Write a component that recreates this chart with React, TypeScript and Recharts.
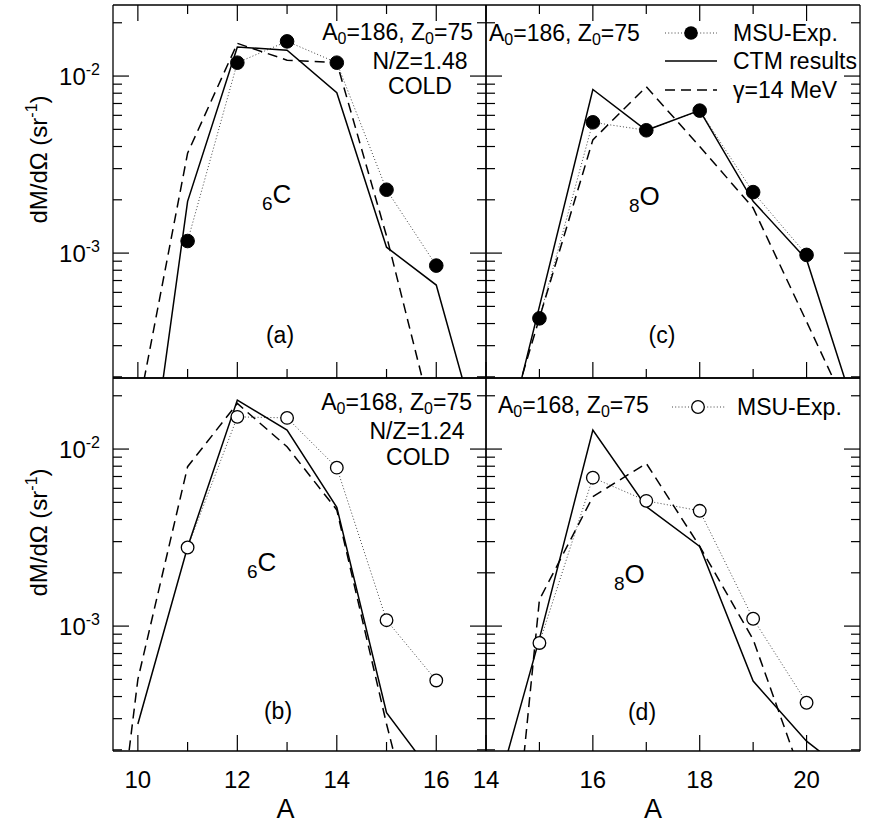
import React from "react";
import { LineChart, Line, XAxis, YAxis, Legend } from "recharts";

const FONT = "'Liberation Sans', Arial, Helvetica, sans-serif";
const W = 871;
const H = 823;

// axes
const yTicks = [
  2e-4, 3e-4, 4e-4, 5e-4, 6e-4, 7e-4, 8e-4, 9e-4,
  1e-3, 2e-3, 3e-3, 4e-3, 5e-3, 6e-3, 7e-3, 8e-3, 9e-3,
  1e-2, 2e-2,
];
const yDomain = [1.97e-4, 2.52e-2];
const carbonTicks = [10, 11, 12, 13, 14, 15, 16];
const oxygenTicks = [14, 15, 16, 17, 18, 19, 20];
const carbonDomain = [9.5, 17];
const oxygenDomain = [14, 21];

// (a) 6C, A0=186
const aExpA = [11, 12, 13, 14, 15, 16];
const aExp = [1.17e-3, 1.19e-2, 1.57e-2, 1.19e-2, 2.28e-3, 8.5e-4];
const aCtmA = [10, 11, 12, 13, 14, 15, 16, 17];
const aCtm = [1.8e-5, 1.96e-3, 1.46e-2, 1.4e-2, 8.05e-3, 1.08e-3, 6.6e-4, 6.5e-5];
const aGamA = [10, 11, 12, 13, 14, 15, 16];
const aGam = [1.27e-4, 3.67e-3, 1.53e-2, 1.23e-2, 1.19e-2, 1.25e-3, 9.5e-5];

// (b) 6C, A0=168
const bExpA = [11, 12, 13, 14, 15, 16];
const bExp = [2.78e-3, 1.52e-2, 1.5e-2, 7.85e-3, 1.08e-3, 4.93e-4];
const bCtmA = [10, 11, 12, 13, 14, 15, 16];
const bCtm = [2.8e-4, 2.8e-3, 1.89e-2, 1.28e-2, 4.69e-3, 3.24e-4, 1.37e-4];
const bGamA = [9, 10, 11, 12, 13, 14, 15, 16];
const bGam = [2.6e-6, 5e-4, 7.95e-3, 1.81e-2, 1.03e-2, 4.53e-3, 2.8e-4, 2.2e-5];

// (c) 8O, A0=186
const cExpA = [15, 16, 17, 18, 19, 20];
const cExp = [4.28e-4, 5.48e-3, 4.94e-3, 6.38e-3, 2.21e-3, 9.77e-4];
const cCtmA = [14, 15, 16, 17, 18, 19, 20, 21];
const cCtm = [3.0e-5, 5.0e-4, 8.4e-3, 4.94e-3, 6.4e-3, 1.96e-3, 9.2e-4, 1.05e-4];
const cGamA = [14, 15, 16, 17, 18, 19, 20, 21];
const cGam = [4.2e-5, 4.3e-4, 4.36e-3, 8.7e-3, 4.0e-3, 1.8e-3, 4.1e-4, 9.3e-5];

// (d) 8O, A0=168
const dExpA = [15, 16, 17, 18, 19, 20];
const dExp = [8.03e-4, 6.89e-3, 5.1e-3, 4.48e-3, 1.1e-3, 3.69e-4];
const dCtmA = [14, 15, 16, 17, 18, 19, 20, 21];
const dCtm = [7e-5, 8.5e-4, 1.28e-2, 4.73e-3, 2.82e-3, 4.89e-4, 2.24e-4, 1.3e-4];
const dGamA = [14, 15, 16, 17, 18, 19, 20];
const dGam = [1.3e-6, 1.41e-3, 5.38e-3, 8.3e-3, 2.82e-3, 8.4e-4, 1.19e-4];

type Pt = { A: number; v: number };
const zip = (xs: number[], ys: number[]): Pt[] => xs.map((A, i) => ({ A, v: ys[i] }));

const EXP_STROKE = "#444";
const EXP_DASH = "1 2.2";
const GAM_DASH = "10 6";
const frame = { stroke: "#000", strokeWidth: 1.3 };

const isDecade = (v: number) => Math.abs(Math.log10(v) - Math.round(Math.log10(v))) < 1e-6;

function YTickLeft(props: any) {
  const { x, y, payload, withLabel } = props;
  const major = isDecade(payload.value);
  return (
    <g>
      <line x1={x} x2={x + (major ? 16 : 9)} y1={y} y2={y} stroke="#000" strokeWidth={1.2} />
      {withLabel && major ? (
        <text x={x - 13} y={y + 9} textAnchor="end" fontSize={24} fontFamily={FONT} fill="#000">
          10<tspan dy={-10} fontSize={16}>{Math.round(Math.log10(payload.value))}</tspan>
        </text>
      ) : null}
    </g>
  );
}

function YTickRight(props: any) {
  const { x, y, payload } = props;
  const major = isDecade(payload.value);
  return <line x1={x} x2={x - (major ? 16 : 9)} y1={y} y2={y} stroke="#000" strokeWidth={1.2} />;
}

function XTickBottom(props: any) {
  const { x, y, payload, withLabel } = props;
  const major = payload.value % 2 === 0;
  return (
    <g>
      <line x1={x} x2={x} y1={y} y2={y - (major ? 16 : 9)} stroke="#000" strokeWidth={1.2} />
      {withLabel && major ? (
        <text x={x} y={y + 37} textAnchor="middle" fontSize={24} fontFamily={FONT} fill="#000">
          {payload.value}
        </text>
      ) : null}
    </g>
  );
}

function XTickTop(props: any) {
  const { x, y, payload } = props;
  const major = payload.value % 2 === 0;
  return <line x1={x} x2={x} y1={y} y2={y + (major ? 16 : 9)} stroke="#000" strokeWidth={1.2} />;
}

function Source({ x, y, anchor, a0 }: { x: number; y: number; anchor: "start" | "end"; a0: number }) {
  return (
    <text x={x} y={y} textAnchor={anchor} fontSize={23} fontFamily={FONT} fill="#000">
      A<tspan fontSize={16} dy={4}>0</tspan>
      <tspan dy={-4}>={a0}, Z</tspan>
      <tspan fontSize={16} dy={4}>0</tspan>
      <tspan dy={-4}>=75</tspan>
    </text>
  );
}

function Element({ x, y, z, sym }: { x: number; y: number; z: number; sym: string }) {
  return (
    <text x={x} y={y} fontSize={19} fontFamily={FONT} fill="#000">
      {z}
      <tspan fontSize={26} dy={-7}>{sym}</tspan>
    </text>
  );
}

function Txt({ x, y, children, anchor = "middle" }: any) {
  return (
    <text x={x} y={y} textAnchor={anchor} fontSize={23} fontFamily={FONT} fill="#000">
      {children}
    </text>
  );
}

const notesA = (
  <g>
    <Source x={473} y={40} anchor="end" a0={186} />
    <Txt x={420} y={69}>N/Z=1.48</Txt>
    <Txt x={420} y={94}>COLD</Txt>
    <Element x={262} y={210} z={6} sym="C" />
    <Txt x={280} y={343}>(a)</Txt>
  </g>
);

const notesB = (
  <g>
    <Source x={472} y={410} anchor="end" a0={168} />
    <Txt x={417} y={439}>N/Z=1.24</Txt>
    <Txt x={418} y={465}>COLD</Txt>
    <Element x={247} y={578} z={6} sym="C" />
    <Txt x={278} y={719}>(b)</Txt>
  </g>
);

const notesC = (
  <g>
    <Source x={489} y={41} anchor="start" a0={186} />
    <line x1={665} x2={717} y1={33} y2={33} stroke={EXP_STROKE} strokeDasharray={EXP_DASH} />
    <circle cx={691} cy={33} r={6.8} fill="#000" />
    <Txt x={733} y={41} anchor="start">MSU-Exp.</Txt>
    <line x1={665} x2={717} y1={61} y2={61} stroke="#000" strokeWidth={1.5} />
    <Txt x={733} y={69} anchor="start">CTM results</Txt>
    <line x1={665} x2={717} y1={90} y2={90} stroke="#000" strokeWidth={1.5} strokeDasharray={GAM_DASH} />
    <Txt x={733} y={98} anchor="start">γ=14 MeV</Txt>
    <Element x={629} y={212} z={8} sym="O" />
    <Txt x={662} y={343}>(c)</Txt>
  </g>
);

const notesD = (
  <g>
    <Source x={498} y={413} anchor="start" a0={168} />
    <line x1={672} x2={725} y1={407} y2={407} stroke={EXP_STROKE} strokeDasharray={EXP_DASH} />
    <circle cx={698} cy={407} r={6.3} fill="#fff" stroke="#000" strokeWidth={1.3} />
    <Txt x={737} y={415} anchor="start">MSU-Exp.</Txt>
    <Element x={614} y={590} z={8} sym="O" />
    <Txt x={642} y={720}>(d)</Txt>
  </g>
);

type PanelProps = {
  left: number;
  top: number;
  width: number;
  height: number;
  xDomain: number[];
  xTicks: number[];
  exp: Pt[];
  ctm: Pt[];
  gam: Pt[];
  filled: boolean;
  isTop: boolean;
  isLeft: boolean;
  xShift: number;
  notes: React.ReactNode;
};

function Panel(p: PanelProps) {
  const margin = {
    left: p.left - 4,
    top: p.top - 4,
    right: W - p.left - p.width - 4,
    bottom: H - p.top - p.height - 4,
  };
  const cy = p.top + p.height / 2 - 32;
  return (
    <div style={{ position: "absolute", left: 0, top: 0 }}>
      <LineChart width={W} height={H} margin={margin}>
        <XAxis
          xAxisId="b"
          dataKey="A"
          type="number"
          orientation="bottom"
          domain={p.xDomain}
          ticks={p.xTicks}
          interval={0}
          allowDataOverflow
          height={4}
          tickSize={0}
          tickMargin={0}
          tickLine={false}
          axisLine={frame}
          tick={(t: any) => <XTickBottom {...t} withLabel={!p.isTop} />}
          label={
            p.isTop
              ? undefined
              : () => (
                  <text
                    x={p.left + p.width / 2 + p.xShift}
                    y={p.top + p.height + 67}
                    textAnchor="middle"
                    fontSize={27}
                    fontFamily={FONT}
                    fill="#000"
                  >
                    A
                  </text>
                )
          }
        />
        <XAxis
          xAxisId="t"
          dataKey="A"
          type="number"
          orientation="top"
          domain={p.xDomain}
          ticks={p.xTicks}
          interval={0}
          allowDataOverflow
          height={4}
          tickSize={0}
          tickMargin={0}
          tickLine={false}
          axisLine={frame}
          tick={p.isTop ? (t: any) => <XTickTop {...t} /> : false}
        />
        <YAxis
          yAxisId="l"
          type="number"
          scale="log"
          orientation="left"
          domain={yDomain}
          ticks={yTicks}
          interval={0}
          allowDataOverflow
          width={4}
          tickSize={0}
          tickMargin={0}
          tickLine={false}
          axisLine={frame}
          tick={(t: any) => <YTickLeft {...t} withLabel={p.isLeft} />}
          label={
            p.isLeft
              ? () => (
                  <text
                    transform={`translate(47,${cy}) rotate(-90)`}
                    textAnchor="middle"
                    fontSize={24}
                    fontFamily={FONT}
                    fill="#000"
                  >
                    dM/dΩ (sr<tspan dy={-10} fontSize={16}>-1</tspan>
                    <tspan dy={10}>)</tspan>
                  </text>
                )
              : undefined
          }
        />
        <YAxis
          yAxisId="r"
          type="number"
          scale="log"
          orientation="right"
          domain={yDomain}
          ticks={yTicks}
          interval={0}
          allowDataOverflow
          width={4}
          tickSize={0}
          tickMargin={0}
          tickLine={false}
          axisLine={frame}
          tick={(t: any) => <YTickRight {...t} />}
        />
        <Line
          xAxisId="b"
          yAxisId="l"
          data={p.exp}
          dataKey="v"
          type="linear"
          stroke={EXP_STROKE}
          strokeWidth={1}
          strokeDasharray={EXP_DASH}
          dot={{
            r: p.filled ? 6.8 : 6.3,
            fill: p.filled ? "#000" : "#fff",
            stroke: "#000",
            strokeWidth: p.filled ? 1 : 1.3,
            strokeDasharray: "none",
          }}
          activeDot={false}
          isAnimationActive={false}
        />
        <Line
          xAxisId="b"
          yAxisId="l"
          data={p.gam}
          dataKey="v"
          type="linear"
          stroke="#000"
          strokeWidth={1.5}
          strokeDasharray={GAM_DASH}
          dot={false}
          activeDot={false}
          isAnimationActive={false}
        />
        <Line
          xAxisId="b"
          yAxisId="l"
          data={p.ctm}
          dataKey="v"
          type="linear"
          stroke="#000"
          strokeWidth={1.5}
          dot={false}
          activeDot={false}
          isAnimationActive={false}
        />
        <Legend
          layout="horizontal"
          verticalAlign="middle"
          align="center"
          wrapperStyle={{ left: 0, top: 0, width: W, height: H, pointerEvents: "none" }}
          content={() => (
            <svg width={W} height={H} style={{ display: "block" }}>
              {p.notes}
            </svg>
          )}
        />
      </LineChart>
    </div>
  );
}

export default function App() {
  return (
    <div style={{ position: "absolute", left: 0, top: 0, width: W, height: H, background: "#fff" }}>
      <Panel
        left={113}
        top={5}
        width={373}
        height={373}
        xDomain={carbonDomain}
        xTicks={carbonTicks}
        exp={zip(aExpA, aExp)}
        ctm={zip(aCtmA, aCtm)}
        gam={zip(aGamA, aGam)}
        filled
        isTop
        isLeft
        xShift={-14}
        notes={notesA}
      />
      <Panel
        left={113}
        top={378}
        width={373}
        height={373}
        xDomain={carbonDomain}
        xTicks={carbonTicks}
        exp={zip(bExpA, bExp)}
        ctm={zip(bCtmA, bCtm)}
        gam={zip(bGamA, bGam)}
        filled={false}
        isTop={false}
        isLeft
        xShift={-14}
        notes={notesB}
      />
      <Panel
        left={486}
        top={5}
        width={374}
        height={373}
        xDomain={oxygenDomain}
        xTicks={oxygenTicks}
        exp={zip(cExpA, cExp)}
        ctm={zip(cCtmA, cCtm)}
        gam={zip(cGamA, cGam)}
        filled
        isTop
        isLeft={false}
        xShift={-20}
        notes={notesC}
      />
      <Panel
        left={486}
        top={378}
        width={374}
        height={373}
        xDomain={oxygenDomain}
        xTicks={oxygenTicks}
        exp={zip(dExpA, dExp)}
        ctm={zip(dCtmA, dCtm)}
        gam={zip(dGamA, dGam)}
        filled={false}
        isTop={false}
        isLeft={false}
        xShift={-20}
        notes={notesD}
      />
    </div>
  );
}
